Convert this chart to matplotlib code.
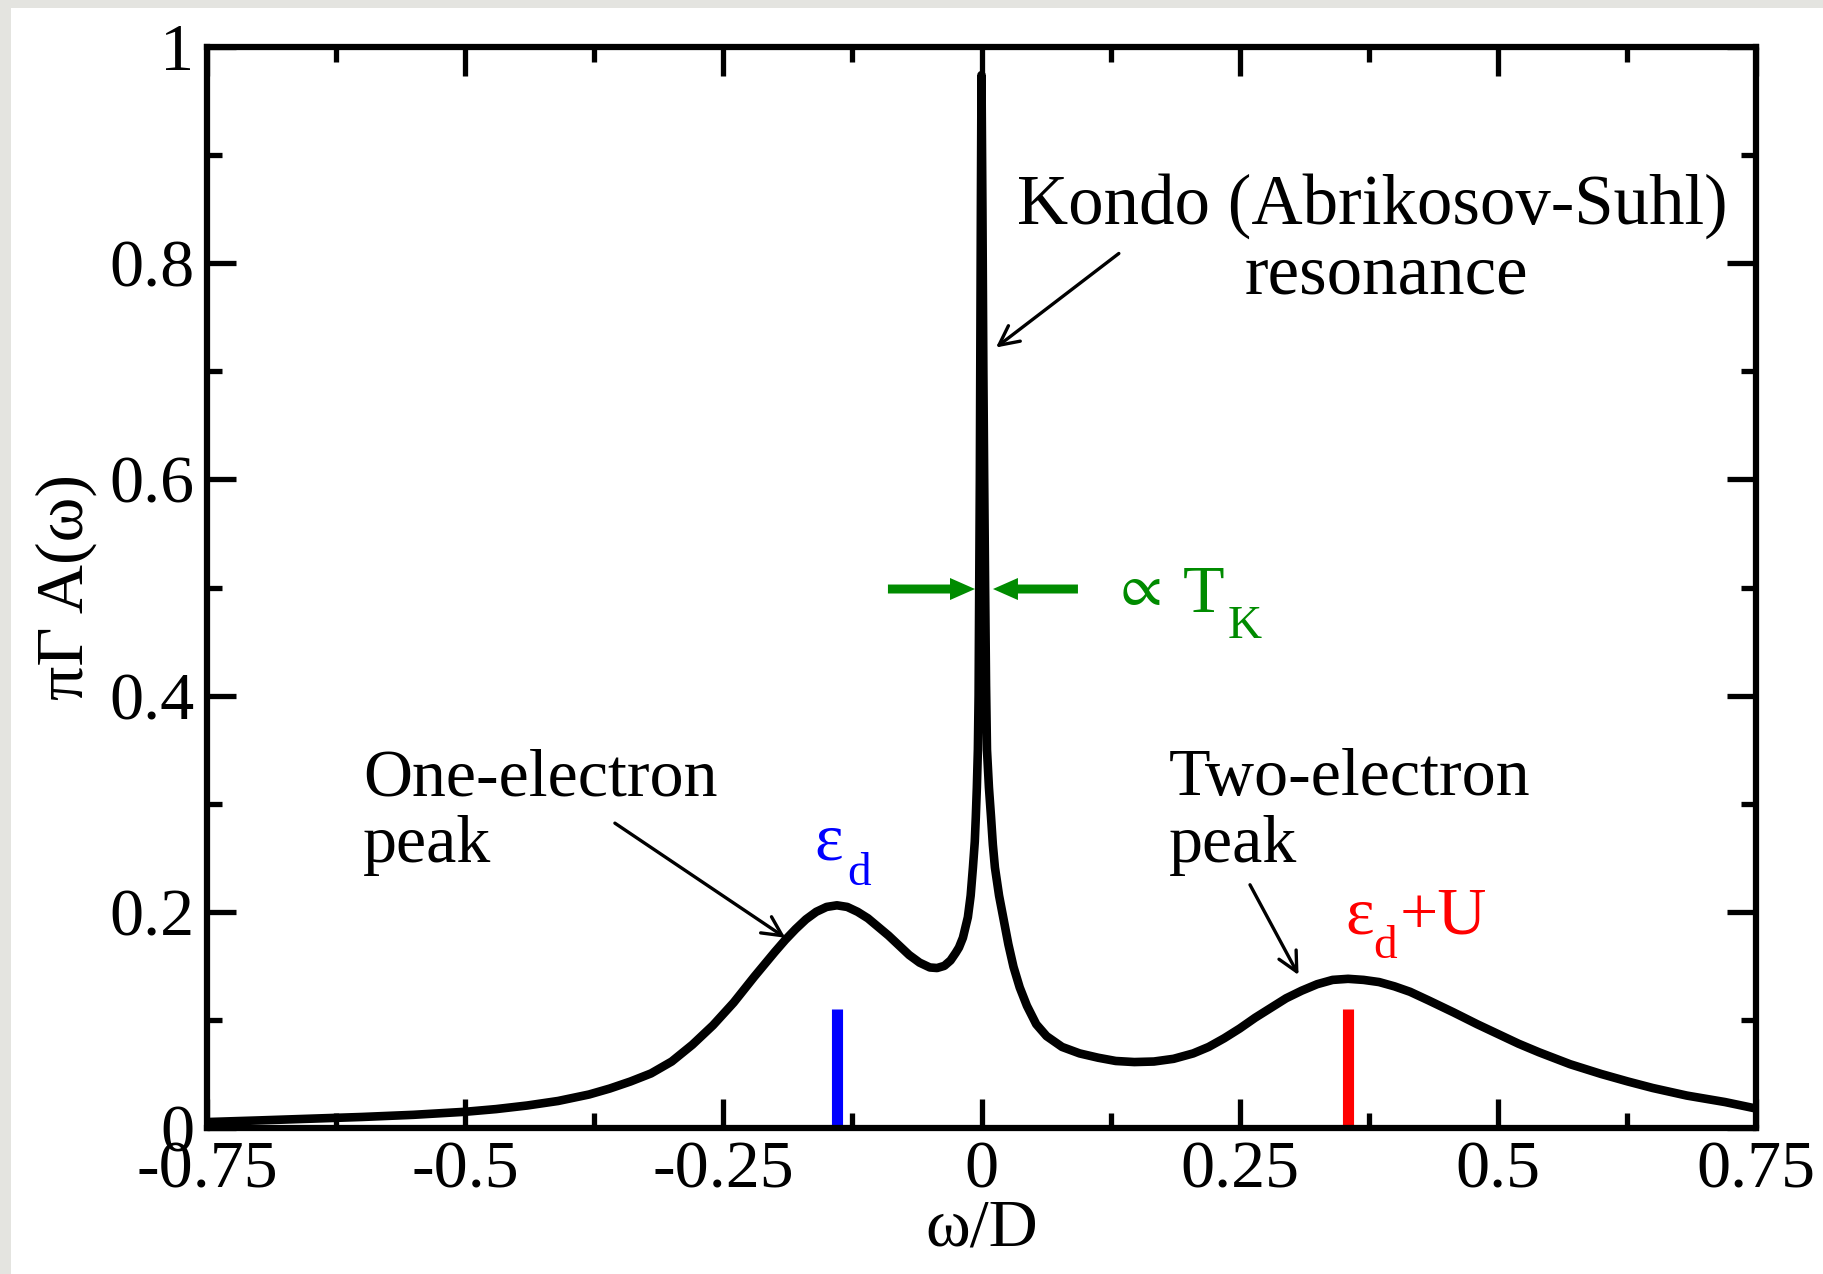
import matplotlib
matplotlib.use("Agg")
import matplotlib.pyplot as plt
from matplotlib.patches import Rectangle

plt.rcParams['font.family'] = ['Liberation Serif', 'DejaVu Serif']
plt.rcParams['axes.unicode_minus'] = False

FONTSIZE = 49

# Spectral function of the Anderson impurity, pi*Gamma*A(omega) vs omega/D
omega = [-0.75, -0.70, -0.65, -0.60, -0.55, -0.50, -0.47, -0.44, -0.41, -0.38,
         -0.36, -0.34, -0.32, -0.30, -0.28, -0.26, -0.24, -0.22, -0.20, -0.19,
         -0.18, -0.17, -0.16, -0.15, -0.14, -0.13, -0.12, -0.11, -0.10, -0.09,
         -0.08, -0.07, -0.06, -0.05, -0.043, -0.036, -0.030, -0.025, -0.0218,
         -0.018, -0.0132, -0.0105, -0.0083, -0.0065, -0.0055, -0.0045, -0.0035,
         -0.0028, -0.0022, -0.0016, -0.0012, -0.0006, 0.0, 0.0009, 0.0018,
         0.0026, 0.0035, 0.0044, 0.0053, 0.0072, 0.0092, 0.011, 0.013, 0.017,
         0.021, 0.026, 0.031, 0.037, 0.044, 0.053, 0.063, 0.078, 0.095, 0.113,
         0.130, 0.148, 0.167, 0.186, 0.205, 0.220, 0.235, 0.250, 0.265, 0.280,
         0.295, 0.310, 0.325, 0.340, 0.355, 0.370, 0.385, 0.400, 0.415, 0.433,
         0.457, 0.48, 0.50, 0.52, 0.54, 0.57, 0.60, 0.626, 0.65, 0.683, 0.72,
         0.75]
spec = [0.0055, 0.0070, 0.0086, 0.0102, 0.0122, 0.0150, 0.0175, 0.0208, 0.0250, 0.0310,
        0.0365, 0.0430, 0.0505, 0.0615, 0.0770, 0.0950, 0.1160, 0.1400, 0.1630, 0.1740,
        0.1840, 0.1930, 0.2000, 0.2045, 0.2060, 0.2045, 0.2000, 0.1940, 0.1860, 0.1780,
        0.1690, 0.1600, 0.1530, 0.1485, 0.1480, 0.1500, 0.1550, 0.1620, 0.1670,
        0.1760, 0.1950, 0.2150, 0.2410, 0.2650, 0.2880, 0.3150, 0.3500,
        0.40, 0.50, 0.60, 0.70, 0.85, 0.974, 0.85, 0.70,
        0.60, 0.50, 0.41, 0.350, 0.315, 0.288, 0.262, 0.241, 0.215,
        0.195, 0.170, 0.149, 0.130, 0.113, 0.096, 0.085, 0.075, 0.069, 0.065,
        0.062, 0.061, 0.0615, 0.064, 0.069, 0.075, 0.083, 0.092, 0.102, 0.111,
        0.120, 0.127, 0.133, 0.137, 0.138, 0.137, 0.135, 0.131, 0.126, 0.118,
        0.107, 0.096, 0.087, 0.078, 0.070, 0.059, 0.050, 0.043, 0.037, 0.030, 0.024,
        0.018]

# bare level positions
eps_d = -0.14
eps_d_U = 0.355
level_height = 0.11

xticks = [-0.75, -0.5, -0.25, 0, 0.25, 0.5, 0.75]
xticklabels = ['-0.75', '-0.5', '-0.25', '0', '0.25', '0.5', '0.75']
xminor = [-0.625, -0.375, -0.125, 0.125, 0.375, 0.625]
yticks = [0, 0.2, 0.4, 0.6, 0.8, 1.0]
yticklabels = ['0', '0.2', '0.4', '0.6', '0.8', '1']
yminor = [0.1, 0.3, 0.5, 0.7, 0.9]

GREEN = '#008b00'

fig = plt.figure(figsize=(18.23, 12.74), dpi=100)
fig.patches.append(Rectangle((0, 1 - 8 / 1274), 1, 8 / 1274, transform=fig.transFigure,
                             facecolor='#e4e4e0', edgecolor='none'))
fig.patches.append(Rectangle((0, 0), 11 / 1823, 1, transform=fig.transFigure,
                             facecolor='#e4e4e0', edgecolor='none'))

ax = fig.add_axes([207 / 1823, 1 - 1128 / 1274, 1549 / 1823, 1081 / 1274])

ax.plot(omega, spec, color='black', lw=6.2, solid_joinstyle='round',
        solid_capstyle='round', zorder=3)

ax.vlines(eps_d, 0, level_height, color='#0000ff', lw=8, capstyle='butt', zorder=2)
ax.vlines(eps_d_U, 0, level_height, color='#ff0000', lw=8, capstyle='butt', zorder=2)

# width of the Kondo peak
ax.arrow(-0.0906, 0.4986, 0.0843, 0, width=0.0083, head_width=0.0204,
         head_length=0.0242, length_includes_head=True, color=GREEN, lw=0, zorder=4)
ax.arrow(0.0934, 0.4986, -0.0823, 0, width=0.0083, head_width=0.0204,
         head_length=0.0242, length_includes_head=True, color=GREEN, lw=0, zorder=4)
ax.text(0.126, 0.497, r'$\propto$', color=GREEN, fontsize=43, math_fontfamily='stix',
        ha='left', va='center')
ax.text(0.195, 0.477, 'T', color=GREEN, fontsize=FONTSIZE, ha='left', va='baseline')
ax.text(0.238, 0.453, 'K', color=GREEN, fontsize=34, ha='left', va='baseline')

# peak labels
ax.text(0.378, 0.837, 'Kondo (Abrikosov-Suhl)', fontsize=51, ha='center', va='baseline')
ax.text(0.392, 0.772, 'resonance', fontsize=51, ha='center', va='baseline')
ax.text(-0.599, 0.308, 'One-electron', fontsize=FONTSIZE, ha='left', va='baseline')
ax.text(-0.599, 0.246, 'peak', fontsize=FONTSIZE, ha='left', va='baseline')
ax.text(0.181, 0.308, 'Two-electron', fontsize=FONTSIZE, ha='left', va='baseline')
ax.text(0.181, 0.246, 'peak', fontsize=FONTSIZE, ha='left', va='baseline')

arrow_kw = dict(arrowstyle='->,head_length=0.7,head_width=0.35', lw=2.4,
                color='black', mutation_scale=20, shrinkA=0, shrinkB=0)
ax.annotate('', xy=(0.014, 0.722), xytext=(0.133, 0.809), arrowprops=arrow_kw)
ax.annotate('', xy=(-0.190, 0.176), xytext=(-0.355, 0.282), arrowprops=arrow_kw)
ax.annotate('', xy=(0.307, 0.1415), xytext=(0.260, 0.225), arrowprops=arrow_kw)

# level labels
ax.text(-0.162, 0.248, '\u03b5', color='#0000ff', fontsize=FONTSIZE, ha='left', va='baseline')
ax.text(-0.130, 0.225, 'd', color='#0000ff', fontsize=34, ha='left', va='baseline')
ax.text(0.352, 0.180, '\u03b5', color='#ff0000', fontsize=FONTSIZE, ha='left', va='baseline')
ax.text(0.379, 0.157, 'd', color='#ff0000', fontsize=34, ha='left', va='baseline')
ax.text(0.405, 0.180, '+U', color='#ff0000', fontsize=FONTSIZE, ha='left', va='baseline')

ax.set_xlim(-0.75, 0.75)
ax.set_ylim(0, 1)
ax.set_xticks(xticks)
ax.set_xticklabels(xticklabels)
ax.set_xticks(xminor, minor=True)
ax.set_yticks(yticks)
ax.set_yticklabels(yticklabels)
ax.set_yticks(yminor, minor=True)

ax.tick_params(which='both', direction='in', top=True, right=True, width=3.8,
               labelsize=FONTSIZE)
ax.tick_params(which='major', length=21, pad=9)
ax.tick_params(which='minor', length=10.5)
for s in ax.spines.values():
    s.set_linewidth(4.5)

ax.set_xlabel('\u03c9/D', fontsize=FONTSIZE, labelpad=-2)
ax.set_ylabel('\u03c0\u0393 A(\u03c9)', fontsize=FONTSIZE, labelpad=9)

fig.savefig('out.png', dpi=100)
